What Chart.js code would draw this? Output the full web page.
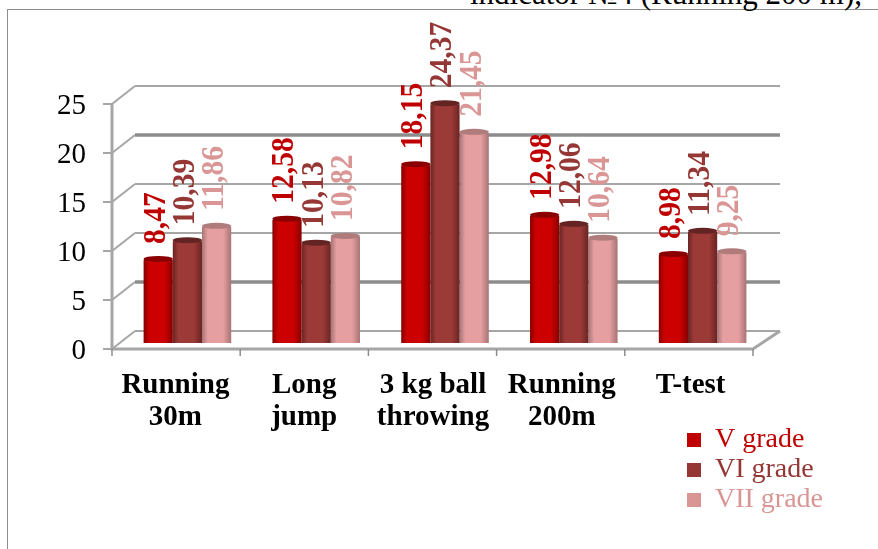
<!DOCTYPE html>
<html lang="en">
<head>
<meta charset="UTF-8">
<title>Physical test results by grade</title>
<script src="https://cdn.jsdelivr.net/npm/chart.js"></script>
<style>
    html, body { margin: 0; padding: 0; background: #fff; }
    body { width: 878px; height: 549px; overflow: hidden; position: relative; }
    #frame { position: absolute; left: 7px; top: 9px; right: 0; bottom: 0; border-left: 1px solid #8c8c8c; border-top: 1px solid #8c8c8c; }
    #caption { position: absolute; left: 470px; top: -24px; font: 31px "Liberation Serif", serif; color: #000; white-space: nowrap; }
    canvas { position: absolute; left: 0; top: 0; }
</style>
</head>
<body>
<div id="frame"></div>
<div id="caption">indicator №4 (Running 200 m),</div>
<canvas id="chart" width="878" height="549"></canvas>

<script>
    const categories = [['Running', '30m'], ['Long', 'jump'], ['3 kg ball', 'throwing'], ['Running', '200m'], 'T-test'];
    const grades = ['V grade', 'VI grade', 'VII grade'];
    const gradeV = [8.47, 12.58, 18.15, 12.98, 8.98];
    const gradeVI = [10.39, 10.13, 24.37, 12.06, 11.34];
    const gradeVII = [11.86, 10.82, 21.45, 10.64, 9.25];
    const yTicks = [0, 5, 10, 15, 20, 25];

    // colours per series: legend, edge of the cylinder, middle of the cylinder, top cap
    const solid = ['#C00000', '#953735', '#D99694'];
    const edge = ['#860000', '#6a2523', '#a87474'];
    const middle = ['#CC0000', '#9c3a38', '#e69fa1'];
    const cap = ['#8a0000', '#632423', '#b07b7b'];
    const thickGrid = [5, 20]; // these two gridlines are heavier in the picture

    const catPercent = 0.68;

    function barFill(ctx) {
        const i = ctx.datasetIndex;
        if (ctx.dataIndex === undefined) return solid[i];
        const sx = ctx.chart.scales.x;
        const w = sx.width / categories.length * catPercent / 3;
        const left = sx.getPixelForValue(ctx.dataIndex) - 1.5 * w + i * w;
        const g = ctx.chart.ctx.createLinearGradient(left, 0, left + w, 0);
        g.addColorStop(0, edge[i]);
        g.addColorStop(0.2, middle[i]);
        g.addColorStop(0.72, middle[i]);
        g.addColorStop(1, edge[i]);
        return g;
    }

    // the fake 3D box behind the bars, follows the y scale
    const box3d = {
        id: 'box3d',
        beforeDatasetsDraw(chart) {
            const c = chart.ctx, a = chart.chartArea, y = chart.scales.y;
            const fl = a.left - 11, fr = a.right - 14, bl = a.left + 12, br = a.right + 13;
            c.save();
            c.strokeStyle = '#a6a6a6';
            c.lineWidth = 2;
            yTicks.forEach(t => {
                const p = y.getPixelForValue(t);
                c.beginPath();
                c.moveTo(fl, p + 6);
                c.lineTo(bl, p - 12);
                c.stroke();
                c.save();
                if (thickGrid.includes(t)) { c.lineWidth = 3.5; c.strokeStyle = '#8c8c8c'; }
                c.beginPath();
                c.moveTo(bl, p - 12);
                c.lineTo(br, p - 12);
                c.stroke();
                c.restore();
                // tick mark on the left wall
                c.beginPath();
                c.moveTo(fl - 9, p + 6);
                c.lineTo(fl, p + 6);
                c.stroke();
            });
            const p0 = y.getPixelForValue(0), p25 = y.getPixelForValue(25);
            c.beginPath();
            c.moveTo(fl, p25 + 6);
            c.lineTo(fl, p0 + 6);
            c.lineTo(fr, p0 + 6);
            c.lineTo(br, p0 - 12);
            c.lineWidth = 3;
            c.stroke();
            c.lineWidth = 1.5;
            c.strokeStyle = '#8c8c8c';
            for (let i = 0; i <= categories.length; i++) {
                const x = fl + (fr - fl) * i / categories.length;
                c.beginPath();
                c.moveTo(x, p0 + 6);
                c.lineTo(x, p0 + 13);
                c.stroke();
            }
            c.restore();
        }
    };

    // cylinder caps and the rotated value labels
    const barExtras = {
        id: 'barExtras',
        afterDatasetsDraw(chart) {
            const c = chart.ctx;
            chart.data.datasets.forEach((ds, i) => {
                chart.getDatasetMeta(i).data.forEach(el => {
                    c.save();
                    c.fillStyle = cap[i];
                    c.beginPath();
                    c.ellipse(el.x, el.y - 1, el.width / 2, 3, 0, 0, Math.PI * 2);
                    c.fill();
                    c.restore();
                });
            });
            chart.data.datasets.forEach((ds, i) => {
                chart.getDatasetMeta(i).data.forEach((el, j) => {
                    c.save();
                    c.translate(el.x - 2, el.y - 16);
                    c.rotate(-Math.PI / 2);
                    c.scale(1, 1.1); // the source glyphs are stretched across the bar
                    c.fillStyle = solid[i];
                    c.font = 'bold 29.5px "Liberation Serif", serif';
                    c.textAlign = 'left';
                    c.textBaseline = 'middle';
                    c.fillText(ds.data[j].toFixed(2).replace('.', ','), 0, 0);
                    c.restore();
                });
            });
        }
    };

    // legend sits under the plot, low on the right
    const moveLegend = {
        id: 'moveLegend',
        afterLayout(chart) {
            const l = chart.legend;
            const w = l.width;
            l.left = 685; l.right = 685 + w;
            l.top = 424; l.bottom = 424 + l.height;
        }
    };

    new Chart(document.getElementById('chart'), {
        type: 'bar',
        data: {
            labels: categories,
            datasets: [
                { label: grades[0], data: gradeV, backgroundColor: barFill },
                { label: grades[1], data: gradeVI, backgroundColor: barFill },
                { label: grades[2], data: gradeVII, backgroundColor: barFill }
            ]
        },
        plugins: [box3d, barExtras, moveLegend],
        options: {
            responsive: false,
            animation: false,
            layout: { padding: { top: 98, right: 111, left: 0, bottom: 0 } },
            datasets: { bar: { categoryPercentage: catPercent, barPercentage: 1, borderWidth: 0 } },
            plugins: {
                title: { display: false },
                tooltip: { enabled: false },
                legend: {
                    position: 'chartArea',
                    align: 'start',
                    labels: {
                        boxWidth: 14,
                        boxHeight: 14,
                        padding: 2,
                        font: { family: '"Liberation Serif", serif', size: 28 },
                        generateLabels: () => grades.map((g, i) => ({
                            text: g, fillStyle: solid[i], strokeStyle: solid[i], fontColor: solid[i], lineWidth: 0, datasetIndex: i
                        }))
                    }
                }
            },
            scales: {
                x: {
                    afterFit(s) { s.height = 206; },
                    grid: { display: false, drawTicks: false },
                    border: { display: false },
                    ticks: {
                        color: '#000',
                        font: { family: '"Liberation Serif", serif', size: 29, weight: 'bold', lineHeight: 1.1 },
                        padding: 27,
                        labelOffset: -12,
                        autoSkip: false,
                        maxRotation: 0
                    }
                },
                y: {
                    min: 0,
                    max: 25,
                    afterFit(s) { s.width = 123; },
                    afterBuildTicks(s) { s.ticks = yTicks.map(v => ({ value: v })); },
                    grid: { display: false, drawTicks: false },
                    border: { display: false },
                    ticks: {
                        color: '#000',
                        font: { family: '"Liberation Serif", serif', size: 29 },
                        padding: 37,
                        labelOffset: 8
                    }
                }
            }
        }
    });
</script>
</body>
</html>
